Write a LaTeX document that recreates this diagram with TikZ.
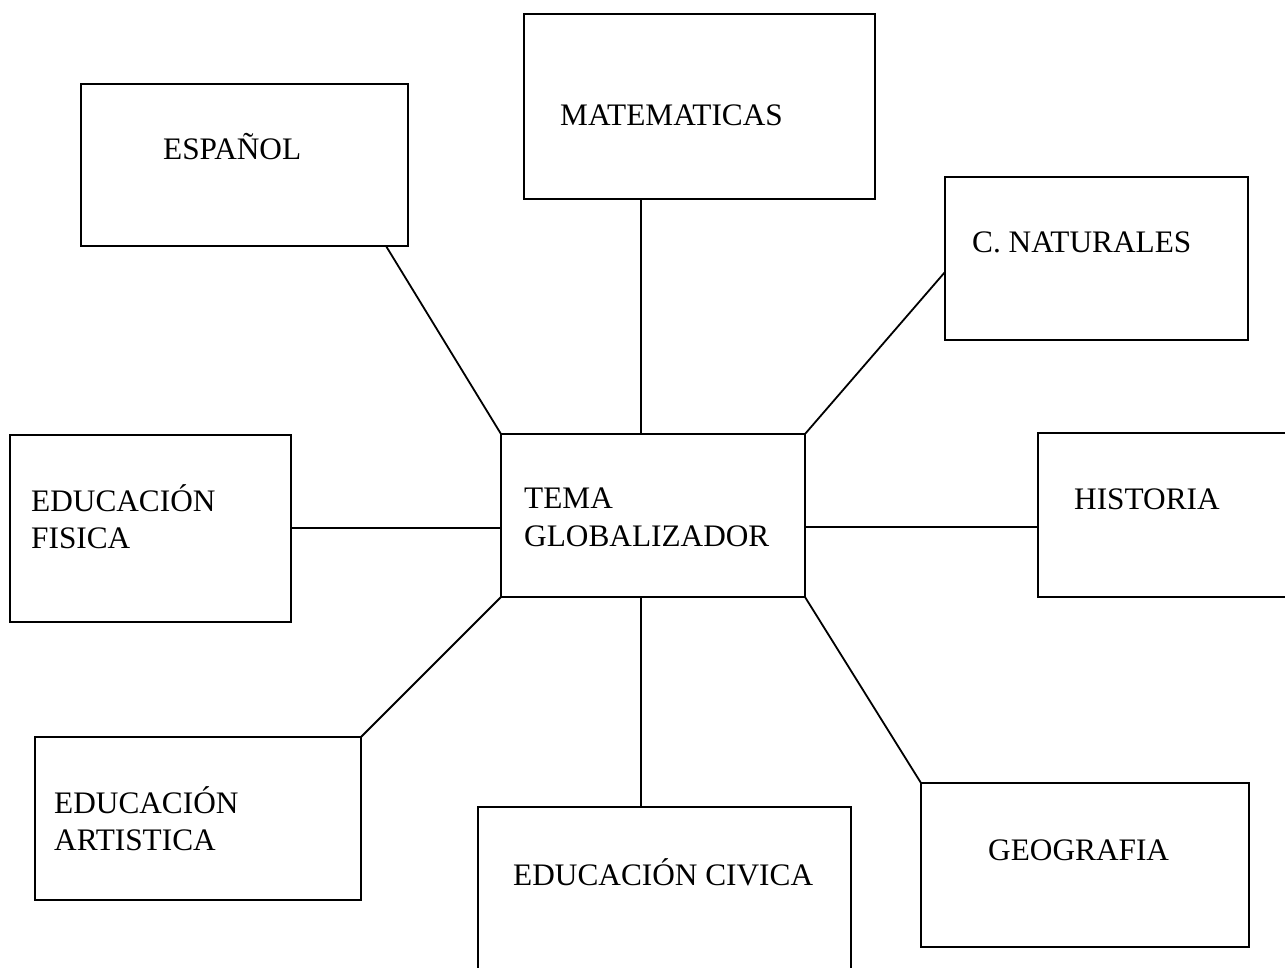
\documentclass[tikz,border=0pt]{standalone}
\usepackage{fontspec}
\setmainfont{Liberation Serif}
\begin{document}
\begin{tikzpicture}[x=1pt,y=-1pt,
  box/.style={draw,line width=1.8pt,inner sep=0pt,outer sep=0pt},
  lbl/.style={anchor=base west,inner sep=0pt,font=\fontsize{31.3}{37.5}\selectfont},
  conn/.style={line width=1.8pt}]
\useasboundingbox (0,0) rectangle (1285,967);
\begin{scope}
\clip (0,0) rectangle (1285,967);
% boxes
\node[box,minimum width=327pt,minimum height=162pt] (esp) at (244.5,165) {};
\node[box,minimum width=351pt,minimum height=185pt] (mat) at (699.5,106.5) {};
\node[box,minimum width=303pt,minimum height=163pt] (nat) at (1096.5,258.5) {};
\node[box,minimum width=281pt,minimum height=187pt] (fis) at (150.5,528.5) {};
\node[box,minimum width=304pt,minimum height=163pt] (tema) at (653,515.5) {};
\node[box,minimum width=262pt,minimum height=164pt] (hist) at (1169,515) {};
\node[box,minimum width=326pt,minimum height=163pt] (art) at (198,818.5) {};
\node[box,minimum width=373pt,minimum height=180pt] (civ) at (664.5,897) {};
\node[box,minimum width=328pt,minimum height=164pt] (geo) at (1085,865) {};
\end{scope}
% labels
\node[lbl] (tesp) at (163,159) {ESPAÑOL};
\node[lbl] (tmat) at (560,125) {MATEMATICAS};
\node[lbl] (tnat) at (972,252) {C. NATURALES};
\node[lbl] (tfis1) at (31,511) {EDUCACIÓN};
\node[lbl] (tfis2) at (31,548) {FISICA};
\node[lbl] (ttema1) at (524,508) {TEMA};
\node[lbl] (ttema2) at (524,546) {GLOBALIZADOR};
\node[lbl] (thist) at (1074,509) {HISTORIA};
\node[lbl] (tart1) at (54,813) {EDUCACIÓN};
\node[lbl] (tart2) at (54,850) {ARTISTICA};
\node[lbl] (tciv) at (513,885) {EDUCACIÓN CIVICA};
\node[lbl] (tgeo) at (988,860) {GEOGRAFIA};
% connectors
\draw[conn] ([xshift=-22pt]esp.south east) -- (tema.north west);
\draw[conn] ([xshift=-12pt]tema.north) -- ([xshift=-12pt]tema.north |- mat.south);
\draw[conn] ([yshift=-13.5pt]nat.west) -- (tema.north east);
\draw[conn] ([yshift=0.5pt]fis.east) -- ([yshift=0.5pt]fis.east -| tema.west);
\draw[conn] ([yshift=-11.5pt]tema.east) -- ([yshift=-11.5pt]tema.east -| hist.west);
\draw[conn] (tema.south west) -- (art.north east);
\draw[conn] ([xshift=-12pt]tema.south) -- ([xshift=-12pt]tema.south |- civ.north);
\draw[conn] (tema.south east) -- (geo.north west);
\end{tikzpicture}
\end{document}
